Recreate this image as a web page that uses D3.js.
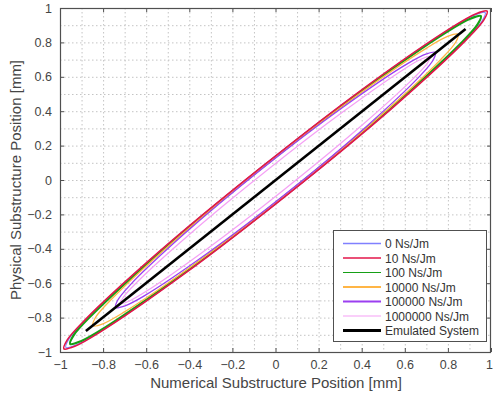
<!DOCTYPE html>
<html>
<head>
<meta charset="utf-8">
<script src="https://cdn.jsdelivr.net/npm/d3@7/dist/d3.min.js"></script>
<style>
  html, body { margin: 0; padding: 0; background: #fff; }
  svg { display: block; font-family: "Liberation Sans", Arial, sans-serif; }
</style>
</head>
<body>
<div id="chart"></div>
<script>
// Hysteresis loops: physical vs numerical substructure position, per damping value
const seriesLabels = ["0 Ns/Jm", "10 Ns/Jm", "100 Ns/Jm", "10000 Ns/Jm",
                      "100000 Ns/Jm", "1000000 Ns/Jm", "Emulated System"];

const loop0 = [[0.070,-0.070],[0.547,0.426],[0.877,0.807],[0.957,0.921],[0.973,0.973],
  [0.921,0.957],[0.807,0.877],[0.426,0.547],[-0.070,0.070],[-0.547,-0.426],[-0.877,-0.807],
  [-0.957,-0.921],[-0.973,-0.973],[-0.921,-0.957],[-0.807,-0.877],[-0.426,-0.547]];

const loop10 = [[0.070,-0.070],[0.552,0.430],[0.886,0.816],[0.967,0.931],[0.982,0.982],
  [0.931,0.967],[0.816,0.886],[0.430,0.552],[-0.070,0.070],[-0.552,-0.430],[-0.886,-0.816],
  [-0.967,-0.931],[-0.982,-0.982],[-0.931,-0.967],[-0.816,-0.886],[-0.430,-0.552]];

const loop100 = [[0.067,-0.067],[0.534,0.419],[0.858,0.792],[0.937,0.903],[0.953,0.953],
  [0.903,0.937],[0.792,0.858],[0.419,0.534],[-0.067,0.067],[-0.534,-0.419],[-0.858,-0.792],
  [-0.937,-0.903],[-0.953,-0.953],[-0.903,-0.937],[-0.792,-0.858],[-0.419,-0.534]];

const loop10000 = [[0.067,-0.067],[0.481,0.366],[0.767,0.701],[0.836,0.801],[0.847,0.847],
  [0.801,0.836],[0.701,0.767],[0.366,0.481],[-0.067,0.067],[-0.481,-0.366],[-0.767,-0.701],
  [-0.836,-0.801],[-0.847,-0.847],[-0.801,-0.836],[-0.701,-0.767],[-0.366,-0.481]];

const loop100000 = [[0.064,-0.064],[0.426,0.316],[0.675,0.611],[0.733,0.701],[0.742,0.742],
  [0.701,0.733],[0.611,0.675],[0.316,0.426],[-0.064,0.064],[-0.426,-0.316],[-0.675,-0.611],
  [-0.733,-0.701],[-0.742,-0.742],[-0.701,-0.733],[-0.611,-0.675],[-0.316,-0.426]];

const loop1000000 = [[0.048,-0.048],[0.401,0.318],[0.646,0.598],[0.706,0.682],[0.718,0.718],
  [0.682,0.706],[0.598,0.646],[0.318,0.401],[-0.048,0.048],[-0.401,-0.318],[-0.646,-0.598],
  [-0.706,-0.682],[-0.718,-0.718],[-0.682,-0.706],[-0.598,-0.646],[-0.318,-0.401]];

const emulated = [[-0.880,-0.878],[0.882,0.878]];

const xTicks = [-1, -0.8, -0.6, -0.4, -0.2, 0, 0.2, 0.4, 0.6, 0.8, 1];
const yTicks = [-1, -0.8, -0.6, -0.4, -0.2, 0, 0.2, 0.4, 0.6, 0.8, 1];
const gridValues = [-0.9, -0.8, -0.7, -0.6, -0.5, -0.4, -0.3, -0.2, -0.1, 0,
                    0.1, 0.2, 0.3, 0.4, 0.5, 0.6, 0.7, 0.8, 0.9];

const W = 493, H = 398;
const m = { left: 60, right: 2, top: 8, bottom: 46 };
const pw = W - m.left - m.right, ph = H - m.top - m.bottom;

const svg = d3.select("#chart").append("svg").attr("width", W).attr("height", H);
const g = svg.append("g").attr("transform", `translate(${m.left},${m.top})`);

const x = d3.scaleLinear().domain([-1, 1]).range([0, pw]);
const y = d3.scaleLinear().domain([-1, 1]).range([ph, 0]);

// dotted grid
const grid = g.append("g").attr("stroke", "#c4c4c4").attr("stroke-width", 1)
  .attr("stroke-dasharray", "1.5,2.5");
grid.selectAll("line.v").data(gridValues).join("line")
  .attr("x1", d => x(d) + 0.5).attr("x2", d => x(d) + 0.5).attr("y1", 0).attr("y2", ph);
grid.selectAll("line.h").data(gridValues).join("line")
  .attr("y1", d => y(d) + 0.5).attr("y2", d => y(d) + 0.5).attr("x1", 0).attr("x2", pw);

// loops
const loops = [
  { data: loop0, color: "#8080ff", width: 1.2 },
  { data: loop100, color: "#16a016", width: 2.2 },
  { data: loop10000, color: "#ffb545", width: 1.3 },
  { data: loop10, color: "#e3164a", width: 1.6 },
  { data: loop100000, color: "#9b3ff0", width: 1.3 },
  { data: loop1000000, color: "#f5a0f5", width: 1.2 }
];
const closed = d3.line().x(d => x(d[0])).y(d => y(d[1])).curve(d3.curveCatmullRomClosed.alpha(0.5));
g.selectAll("path.loop").data(loops).join("path")
  .attr("class", "loop").attr("fill", "none")
  .attr("stroke", d => d.color).attr("stroke-width", d => d.width)
  .attr("d", d => closed(d.data));

const straight = d3.line().x(d => x(d[0])).y(d => y(d[1]));
g.append("path").attr("d", straight(emulated)).attr("fill", "none")
  .attr("stroke", "#000").attr("stroke-width", 2.6);

// axes with inward ticks on all four sides
const axisColor = "#505050";
function styleAxis(sel) {
  sel.select(".domain").remove();
  sel.selectAll(".tick line").attr("stroke", axisColor);
  sel.selectAll(".tick text").attr("fill", "#454545").style("font-size", "12.5px");
}
const bottomAxis = g.append("g").attr("transform", `translate(0,${ph})`)
  .call(d3.axisBottom(x).tickValues(xTicks).tickSizeInner(-4).tickSizeOuter(0).tickPadding(8)
    .tickFormat(d3.format("")))
  .call(styleAxis);
// keep the last label inside the canvas
bottomAxis.selectAll(".tick text").filter(d => d === 1).attr("dx", "-2");
g.append("g")
  .call(d3.axisTop(x).tickValues(xTicks).tickSizeInner(-4).tickSizeOuter(0).tickFormat(""))
  .call(styleAxis);
g.append("g")
  .call(d3.axisLeft(y).tickValues(yTicks).tickSizeInner(-4).tickSizeOuter(0).tickPadding(8)
    .tickFormat(d3.format("")))
  .call(styleAxis);
g.append("g").attr("transform", `translate(${pw},0)`)
  .call(d3.axisRight(y).tickValues(yTicks).tickSizeInner(-4).tickSizeOuter(0).tickFormat(""))
  .call(styleAxis);
g.append("rect").attr("x", 0.5).attr("y", 0.5).attr("width", pw - 1).attr("height", ph)
  .attr("fill", "none").attr("stroke", axisColor).attr("stroke-width", 1.2);

// axis titles
svg.append("text").attr("x", 276).attr("y", 388)
  .attr("text-anchor", "middle").attr("fill", "#454545").style("font-size", "15px")
  .text("Numerical Substructure Position [mm]");
svg.append("text").attr("transform", `translate(21,${m.top + ph / 2}) rotate(-90)`)
  .attr("text-anchor", "middle").attr("fill", "#454545").style("font-size", "15px")
  .text("Physical Substructure Position [mm]");

// legend
const legendColors = ["#8080ff", "#e3164a", "#16a016", "#ffb545", "#9b3ff0", "#f5a0f5", "#000"];
const legendWidths = [1.5, 1.5, 1, 1.8, 1.8, 1.2, 3];
const lg = svg.append("g").attr("transform", "translate(333,230)");
lg.append("rect").attr("x", 0.5).attr("y", 0.5).attr("width", 153).attr("height", 111)
  .attr("fill", "#fff").attr("stroke", axisColor).attr("stroke-width", 1);
const rows = lg.selectAll("g.row").data(seriesLabels).join("g")
  .attr("transform", (d, i) => `translate(0,${13.5 + i * 14.5})`);
rows.append("line").attr("x1", 10).attr("x2", 48).attr("y1", 0).attr("y2", 0)
  .attr("stroke", (d, i) => legendColors[i]).attr("stroke-width", (d, i) => legendWidths[i]);
rows.append("text").attr("x", 52).attr("y", 4.5).attr("fill", "#333")
  .style("font-size", "12px").text(d => d);
</script>
</body>
</html>
